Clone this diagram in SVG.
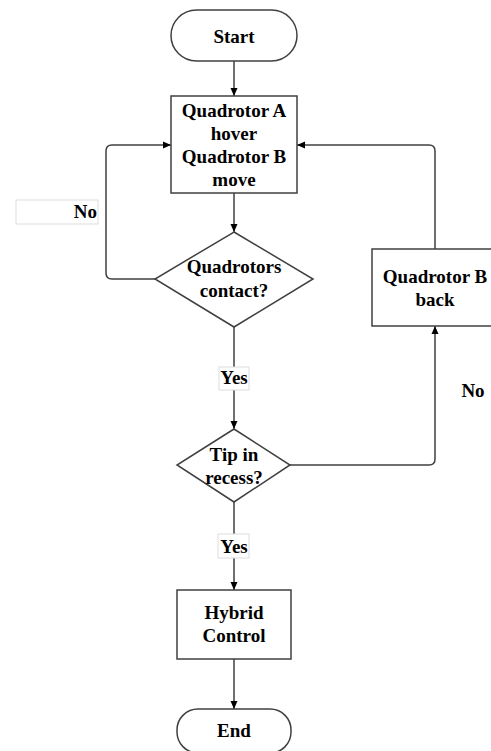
<svg xmlns="http://www.w3.org/2000/svg" width="491" height="751" viewBox="0 0 491 751">
<defs>
<marker id="arr" markerWidth="10" markerHeight="10" refX="9" refY="5" orient="auto" markerUnits="userSpaceOnUse">
<path d="M1,1.5 L9,5 L1,8.5 Z" fill="#000"/>
</marker>
<style>
.shape{fill:#fff;stroke:#404040;stroke-width:1.5}
.lbl{fill:#fff;stroke:#ddd;stroke-width:1}
.edge{fill:none;stroke:#404040;stroke-width:1.5;marker-end:url(#arr)}
text{font-family:"Liberation Serif","Times New Roman",serif;font-weight:bold;font-size:19px;fill:#000;text-anchor:middle}
</style>
</defs>
<rect width="491" height="751" fill="#fff"/>
<g id="connectors">
<path class="edge" d="M234,61 V96"/>
<path class="edge" d="M234,193 V232"/>
<path class="edge" d="M155,279 H112 Q106,279 106,273 V151 Q106,145 112,145 H171"/>
<path class="edge" d="M234,327 V429"/>
<path class="edge" d="M290,465 H429 Q435,465 435,459 V326"/>
<path class="edge" d="M435,249 V151 Q435,145 429,145 H297"/>
<path class="edge" d="M234,502 V590"/>
<path class="edge" d="M234,659 V709"/>
</g>
<g id="label-no-left">
<rect class="lbl" x="16" y="200" width="82" height="24"/>
<text x="97" y="218" style="text-anchor:end">No</text>
</g>
<g id="label-yes1">
<rect class="lbl" x="219" y="367" width="30" height="23"/>
<text x="234" y="384">Yes</text>
</g>
<g id="label-yes2">
<rect class="lbl" x="218" y="534" width="31" height="24"/>
<text x="234" y="553">Yes</text>
</g>
<g id="label-no-right">
<text x="473" y="397">No</text>
</g>
<g id="start">
<rect class="shape" x="171" y="10" width="126" height="51" rx="25.5"/>
<text x="234" y="43">Start</text>
</g>
<g id="hover-move">
<rect class="shape" x="171" y="96" width="126" height="97"/>
<text x="234" y="117">Quadrotor A</text>
<text x="234" y="140">hover</text>
<text x="234" y="163">Quadrotor B</text>
<text x="234" y="186">move</text>
</g>
<g id="contact">
<path class="shape" d="M234,232 L313,279 L234,327 L155,279 Z"/>
<text x="234" y="273">Quadrotors</text>
<text x="234" y="297">contact?</text>
</g>
<g id="back">
<rect class="shape" x="372" y="249" width="125" height="77"/>
<text x="435" y="283">Quadrotor B</text>
<text x="435" y="306">back</text>
</g>
<g id="tip">
<path class="shape" d="M234,429 L290,465 L234,502 L177,465 Z"/>
<text x="234" y="461">Tip in</text>
<text x="234" y="484">recess?</text>
</g>
<g id="hybrid">
<rect class="shape" x="177" y="590" width="114" height="69"/>
<text x="234" y="619">Hybrid</text>
<text x="234" y="642">Control</text>
</g>
<g id="end">
<rect class="shape" x="177" y="709" width="114" height="44" rx="21"/>
<text x="234" y="737">End</text>
</g>
</svg>
